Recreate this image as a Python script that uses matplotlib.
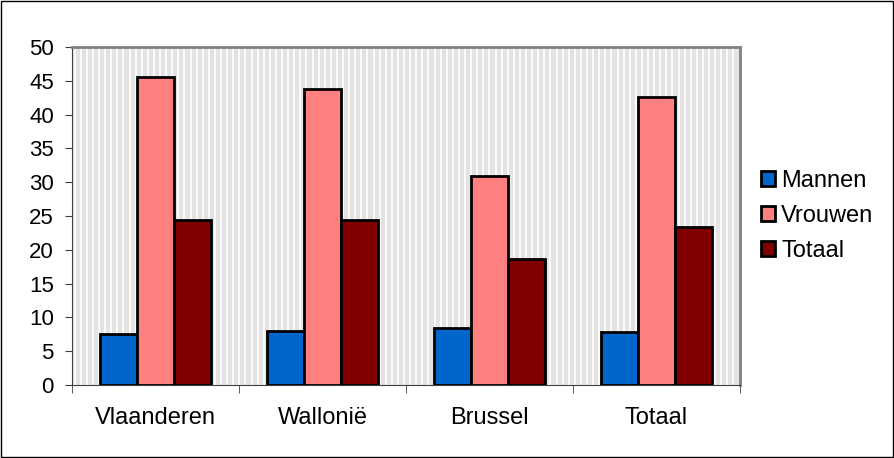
import numpy as np
import matplotlib
matplotlib.use("Agg")
import matplotlib.pyplot as plt
from matplotlib.patches import Rectangle

plt.rcParams["font.family"] = ["Liberation Sans", "DejaVu Sans"]

# -----------------------------
# DATA
# -----------------------------
regions = ["Vlaanderen", "Wallonië", "Brussel", "Totaal"]
mannen = [7.6, 8.0, 8.5, 7.8]
vrouwen = [45.6, 43.8, 30.9, 42.6]
totaal = [24.4, 24.4, 18.6, 23.3]
series_names = ["Mannen", "Vrouwen", "Totaal"]
colors = ["#0066cc", "#ff8080", "#800000"]

# -----------------------------
# FIGURE
# -----------------------------
fig = plt.figure(figsize=(8.95, 4.58), dpi=100)
fig.patches.append(Rectangle((0.001, 0.002), 0.997, 0.996, transform=fig.transFigure,
                             fill=False, edgecolor="black", linewidth=1))
ax = fig.add_axes([0.0804, 0.1594, 0.7464, 0.738])

# striped plot background
ax.set_facecolor("#e3e3e3")
stripes = np.arange(0.004, 1.0, 6.1 / 668)
ax.vlines(stripes, 0, 1, transform=ax.transAxes, colors="white",
          linewidth=1.2, zorder=0)

x = np.arange(len(regions))
w = 0.222
for i, (vals, name, c) in enumerate(zip([mannen, vrouwen, totaal], series_names, colors)):
    ax.bar(x + (i - 1) * w, vals, width=w, color=c, edgecolor="black",
           linewidth=2, label=name, zorder=3)

ax.set_xlim(-0.5, len(regions) - 0.5)
ax.set_ylim(0, 50)
ax.set_yticks(range(0, 51, 5))
ax.set_xticks(x)
ax.set_xticklabels(regions)
ax.set_xticks(np.arange(-0.5, len(regions)), minor=True)
ax.tick_params(axis="x", which="major", length=0, pad=16, labelsize=17)
ax.tick_params(axis="x", which="minor", length=6, color="#404040")
ax.tick_params(axis="y", length=5, labelsize=16, color="#404040", pad=8)

ax.spines["top"].set_color("#808080")
ax.spines["right"].set_color("#808080")
ax.spines["top"].set_linewidth(2)
ax.spines["right"].set_linewidth(2)
ax.spines["left"].set_color("#404040")
ax.spines["bottom"].set_color("#404040")

ax.legend(loc="center left", bbox_to_anchor=(1.0, 0.5), frameon=False,
          fontsize=17, handlelength=0.6, handleheight=0.6, handletextpad=0.25,
          labelspacing=0.55)

plt.savefig("out.png", dpi=100)
